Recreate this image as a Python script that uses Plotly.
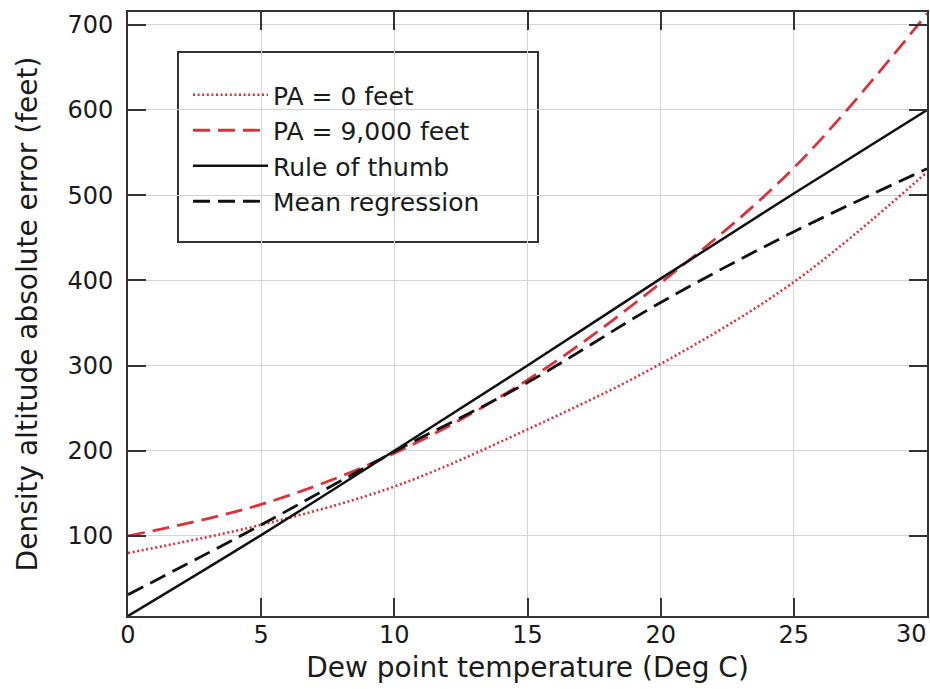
import plotly.graph_objects as go

dew_point = [0, 5, 10, 15, 20, 25, 30]
pa_0 = [80, 113, 158, 225, 302, 398, 527]
pa_9000 = [100, 137, 197, 283, 397, 532, 713]
rule_of_thumb = [6, 101, 200, 300, 402, 502, 600]
mean_regression = [31, 113, 199, 280, 374, 457, 531]

x_ticks = [0, 5, 10, 15, 20, 25, 30]
y_ticks = [100, 200, 300, 400, 500, 600, 700]

RED = "#d7333c"
FONT = "DejaVu Sans"

fig = go.Figure()
fig.add_trace(go.Scatter(x=dew_point, y=pa_0, mode="lines", name="PA = 0 feet",
                         line=dict(color=RED, width=2.6, dash="2px,2.6px", shape="spline")))
fig.add_trace(go.Scatter(x=dew_point, y=pa_9000, mode="lines", name="PA = 9,000 feet",
                         line=dict(color=RED, width=2.8, dash="17px,8px", shape="spline")))
fig.add_trace(go.Scatter(x=dew_point, y=rule_of_thumb, mode="lines", name="Rule of thumb",
                         line=dict(color="#111111", width=2.5, shape="spline")))
fig.add_trace(go.Scatter(x=dew_point, y=mean_regression, mode="lines", name="Mean regression",
                         line=dict(color="#111111", width=2.8, dash="17px,8px", shape="spline")))

axis_common = dict(
    showgrid=True, gridcolor="#d4d4d4", gridwidth=1,
    showline=True, linecolor="#333333", linewidth=2, mirror="ticks",
    ticks="inside", ticklen=18, tickwidth=1.5, tickcolor="#333333",
    zeroline=False, automargin=False,
    tickfont=dict(family=FONT, size=24, color="#1a1a1a"),
)

# last x tick label sits at the right edge of the figure: right-align it so it stays visible
x_ticktext = [str(v) for v in x_ticks[:-1]] + [""]
last_label = str(x_ticks[-1])

fig.update_layout(
    width=930, height=689,
    margin=dict(l=128, r=3, t=12, b=73),
    paper_bgcolor="white", plot_bgcolor="white",
    font=dict(family=FONT, color="#1a1a1a"),
    xaxis=dict(range=[0, 30], tickvals=x_ticks, ticktext=x_ticktext,
               ticklabelstandoff=-4,
               title=dict(text="Dew point temperature (Deg C)", font=dict(family=FONT, size=28), standoff=10),
               **axis_common),
    yaxis=dict(range=[6, 715], tickvals=y_ticks, ticktext=[str(v) for v in y_ticks],
               ticklabelstandoff=8,
               title=dict(text="Density altitude absolute error (feet)", font=dict(family=FONT, size=28), standoff=22),
               **axis_common),
    legend=dict(x=(188 - 128) / 799, y=(616 - 72) / 604, xanchor="left", yanchor="top",
                bgcolor="rgba(0,0,0,0)", borderwidth=0,
                font=dict(family=FONT, size=25, color="#1a1a1a"),
                itemwidth=75),
    shapes=[dict(type="rect", xref="paper", yref="paper",
                 x0=(178 - 128) / 799, x1=(538 - 128) / 799,
                 y0=(616 - 242) / 604, y1=(616 - 52) / 604,
                 line=dict(color="#333333", width=2), fillcolor="white", layer="below")],
    annotations=[dict(x=x_ticks[-1], xref="x", y=0, yref="paper", yshift=-2,
                      text=last_label, showarrow=False, xanchor="right", yanchor="top",
                      xshift=2, font=dict(family=FONT, size=24, color="#1a1a1a"))],
)

fig.write_html("out.html")
